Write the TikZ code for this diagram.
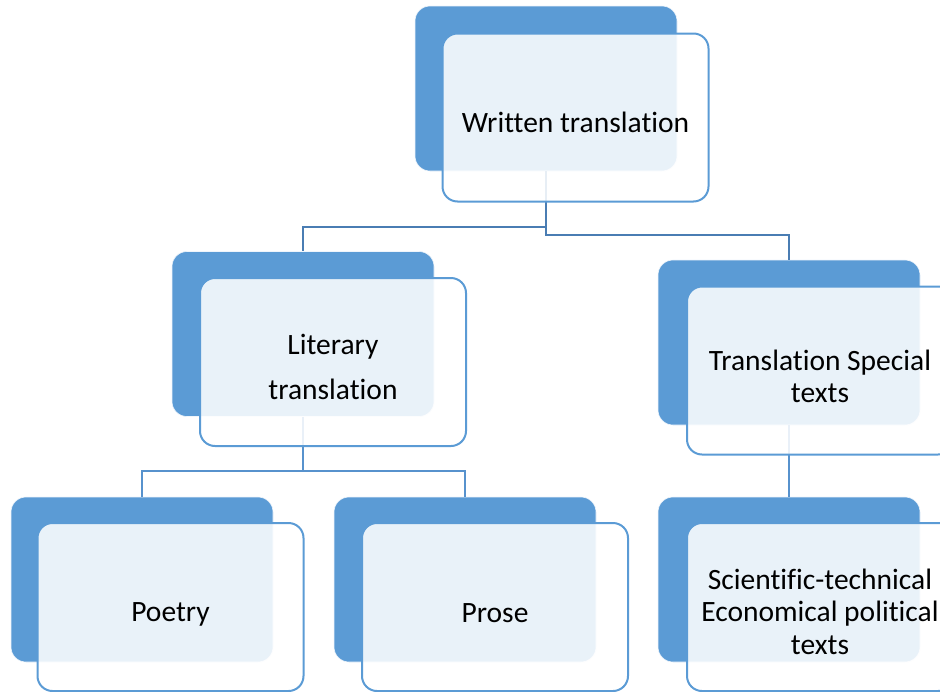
\documentclass[tikz,border=0pt]{standalone}
\usepackage{fontspec}
\setmainfont{Carlito}[Ligatures={NoCommon}]
\definecolor{accent}{HTML}{5B9BD5}
\definecolor{connA}{HTML}{4A7DB3}
\definecolor{connB}{HTML}{5792CD}
\newcommand{\lowerby}[2]{\raisebox{-#1}[\height][\depth]{#2}}
\begin{document}
\begin{tikzpicture}[x=1pt,y=-1pt,
  backbox/.style={rectangle, rounded corners=15pt, fill=accent, draw=accent!10, line width=0.6pt,
    minimum width=262pt, minimum height=165pt, inner sep=0pt},
  frontbox/.style={rectangle, rounded corners=15pt, fill=white, fill opacity=0.87, text opacity=1,
    draw=accent, line width=2pt, minimum width=266pt, minimum height=168pt, inner sep=0pt,
    align=center, font=\fontsize{29.5}{32.5}\selectfont},
  connline/.style={line width=2pt, draw=connA},
  connline2/.style={line width=2pt, draw=connB}]
\useasboundingbox (0,0) rectangle (940,691);
\clip (0,0) rectangle (940,691);
% back boxes
\node[backbox] (tb) at (546,88.5) {};
\node[backbox] (lb) at (303,334) {};
\node[backbox] (sb) at (789,342.5) {};
\node[backbox] (pb) at (142,579.5) {};
\node[backbox] (rb) at (465,579.5) {};
\node[backbox] (cb) at (789,579.5) {};
% connectors
\coordinate (j1) at (546,226.5);
\coordinate (j2) at (546,235);
\coordinate (j3) at (303,471);
\draw[connline] (tb.south) -- (j1) -| (lb.north);
\draw[connline] (tb.south) -- (j2) -| (sb.north);
\draw[connline2] (lb.south) -- (j3) -| (pb.north);
\draw[connline2] (j3) -| (rb.north);
\draw[connline2] (sb.south) -- (cb.north);
% front boxes
\node[frontbox] (tf) at (575.5,117.5) {\lowerby{4.5pt}{Written translation}};
\node[frontbox] (lf) at (333,362) {\lowerby{8.5pt}{\begin{tabular}{@{}c@{}}Literary\\[12.5pt]translation\end{tabular}}};
\node[frontbox] (sf) at (820,370.5) {\lowerby{9.5pt}{\begin{tabular}{@{}c@{}}Translation Special\\texts\end{tabular}}};
\node[frontbox] (pf) at (170.5,607) {\lowerby{7pt}{Poetry}};
\node[frontbox] (rf) at (495,607) {\lowerby{6pt}{Prose}};
\node[frontbox] (cf) at (820,607) {\lowerby{8pt}{\begin{tabular}{@{}c@{}}Scientific-technical\\Economical political\\texts\end{tabular}}};
\end{tikzpicture}
\end{document}
